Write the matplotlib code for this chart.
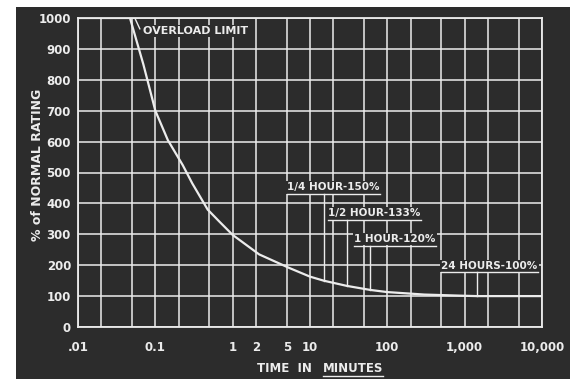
import matplotlib
matplotlib.use("Agg")
import matplotlib.pyplot as plt
from matplotlib.patches import Rectangle

# overload curve (time in minutes, % of normal rating)
minutes = [0.01, 0.047, 0.07, 0.1, 0.145, 0.226, 0.3, 0.475, 0.68, 1, 2.2, 5.4, 10, 15, 30, 60, 100, 300, 1000, 1440, 3000, 10000]
percent = [1000, 1000, 850, 700, 605, 524, 465, 380, 340, 298, 235, 191, 163, 150, 133, 120, 113, 105, 101, 100, 100, 100]

x_ticks = [0.01, 0.02, 0.05, 0.1, 0.2, 0.5, 1, 2, 5, 10, 20, 50, 100, 200, 500,
           1000, 2000, 5000, 10000]
x_labels = [".01", "", "", "0.1", "", "", "1", "2", "5", "10", "", "", "100", "", "",
            "1,000", "", "", "10,000"]
y_ticks = list(range(0, 1001, 100))

notes = ["1/4 HOUR-150%", "1/2 HOUR-133%", "1 HOUR-120%", "24 HOURS-100%"]
note_t = [15, 30, 60, 1440]
note_p = [150, 133, 120, 100]

bg = "#2c2c2c"
fg = "#ececec"

fig = plt.figure(figsize=(5.74, 3.79), dpi=100)
fig.patch.set_facecolor("white")
fig.patches.append(Rectangle((16 / 574, 0), 554 / 574, 1 - 7 / 379,
                             transform=fig.transFigure, facecolor=bg,
                             edgecolor="none", zorder=-5))

ax = fig.add_axes([78 / 574, 1 - 327 / 379, 464 / 574, 309 / 379])
ax.set_facecolor(bg)
ax.set_xscale("log")
ax.set_xlim(0.01, 10000)
ax.set_ylim(0, 1000)

ax.set_xticks(x_ticks)
ax.set_xticklabels(x_labels)
ax.xaxis.set_minor_locator(matplotlib.ticker.NullLocator())
ax.set_yticks(y_ticks)
ax.tick_params(axis="both", length=0, colors=fg, labelsize=8.5)
ax.tick_params(axis="x", pad=10)
ax.tick_params(axis="y", pad=5)
for lab in ax.get_xticklabels() + ax.get_yticklabels():
    lab.set_fontweight("bold")

ax.grid(True, color=fg, lw=1.1)
for s in ax.spines.values():
    s.set_color(fg)
    s.set_linewidth(1.3)

ax.plot(minutes, percent, color=fg, lw=1.6, zorder=3)

# overload limit label with its small leader
ax.text(0.069, 958, "OVERLOAD LIMIT", color=fg, fontsize=8, fontweight="bold",
        va="center", ha="left",
        bbox=dict(facecolor=bg, edgecolor="none", pad=0.5), zorder=4)
ax.plot([0.055, 0.063], [997, 965], color=fg, lw=1.0, zorder=4)

# annotations: left of text (minutes) and baseline (%)
note_x = [5.1, 17.3, 37.5, 500]
note_y = [442, 358, 275, 188]
texts = []
for s, tx, ty in zip(notes, note_x, note_y):
    t = ax.text(tx, ty, s, color=fg, fontsize=7.5, fontweight="bold",
                ha="left", va="baseline",
                bbox=dict(facecolor=bg, edgecolor="none", pad=1.0), zorder=4)
    texts.append(t)

fig.text(38 / 574, 1 - 165 / 379, "% of NORMAL RATING", color=fg, fontsize=9,
         fontweight="bold", rotation=90, ha="center", va="center")
t1 = fig.text(257 / 574, 1 - 368 / 379, "TIME  IN", color=fg, fontsize=8.5,
              fontweight="bold", ha="left", va="center")
t2 = fig.text(323 / 574, 1 - 368 / 379, "MINUTES", color=fg, fontsize=8.5,
              fontweight="bold", ha="left", va="center")

fig.canvas.draw()
r = fig.canvas.get_renderer()
inv = ax.transData.inverted()
for t, nt, npct, ty in zip(texts, note_t, note_p, note_y):
    bb = t.get_window_extent(r)
    (x0, y0), (x1, _) = inv.transform([(bb.x0, bb.y0 - 1.5), (bb.x1, bb.y0)])
    ax.plot([x0, x1], [y0, y0], color=fg, lw=1.0, zorder=5)
    ax.plot([nt, nt], [y0, npct], color=fg, lw=1.0, zorder=5)

bb = t2.get_window_extent(r)
fig.lines.append(plt.Line2D([bb.x0 / 574, bb.x1 / 574],
                            [(bb.y0 - 1.5) / 379, (bb.y0 - 1.5) / 379],
                            transform=fig.transFigure, color=fg, lw=1.0))

fig.savefig("out.png", dpi=100, facecolor="white")
